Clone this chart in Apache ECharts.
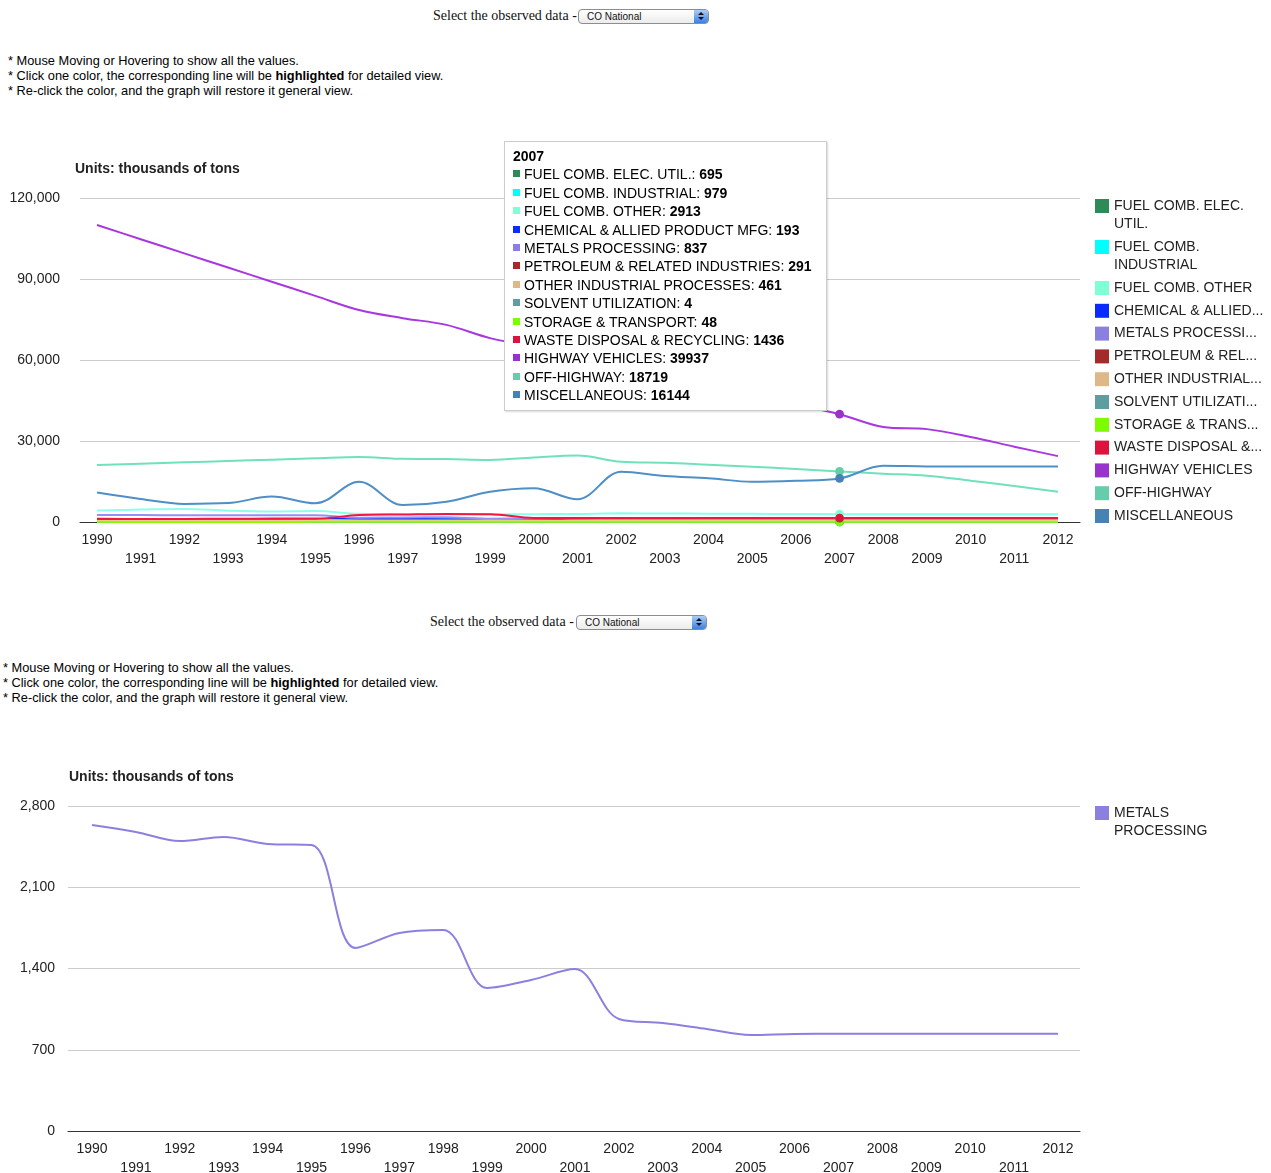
<!DOCTYPE html>
<html>
<head>
<meta charset="utf-8">
<script src="https://cdn.jsdelivr.net/npm/echarts@6/dist/echarts.min.js"></script>
<style>
  body { margin: 0; width: 1271px; height: 1173px; overflow: hidden; background: #fff; position: relative; font-family: "Liberation Sans", Arial, sans-serif; }
  .sel { position: absolute; font-family: "Liberation Serif", "Times New Roman", serif; font-size: 14px; line-height: 16px; color: #111; white-space: nowrap; }
  .box { position: absolute; width: 129px; height: 13px; border: 1px solid #8d8d8d; border-radius: 4px; background: linear-gradient(#ffffff, #ececec); box-sizing: content-box; }
  .box span { position: absolute; left: 8px; top: 0; font: 10px/13px "Liberation Sans", Arial, sans-serif; color: #111; }
  .box i { position: absolute; right: 0; top: 0; width: 14px; height: 13px; border-radius: 0 3px 3px 0; background: linear-gradient(#a9cdf7, #3d80df); }
  .box i:before, .box i:after { content: ''; position: absolute; left: 4px; border-left: 3px solid transparent; border-right: 3px solid transparent; }
  .box i:before { top: 2px; border-bottom: 3px solid #111; }
  .box i:after { top: 7px; border-top: 3px solid #111; }
  .note { position: absolute; font-size: 12.8px; line-height: 15px; color: #000; white-space: nowrap; }
  .chart { position: absolute; left: 0; width: 1271px; }
</style>
</head>
<body>
<div class="sel" style="left:433px;top:8px">Select the observed data -</div>
<div class="box" style="left:578px;top:9px"><span>CO National</span><i></i></div>
<div class="note" style="left:8px;top:53px">
  * Mouse Moving or Hovering to show all the values.<br>
  * Click one color, the corresponding line will be <b>highlighted</b> for detailed view.<br>
  * Re-click the color, and the graph will restore it general view.
</div>
<div id="c1" class="chart" style="top:130px;height:460px"></div>

<div class="sel" style="left:430px;top:614px">Select the observed data -</div>
<div class="box" style="left:576px;top:615px"><span>CO National</span><i></i></div>
<div class="note" style="left:3px;top:660px">
  * Mouse Moving or Hovering to show all the values.<br>
  * Click one color, the corresponding line will be <b>highlighted</b> for detailed view.<br>
  * Re-click the color, and the graph will restore it general view.
</div>
<div id="c2" class="chart" style="top:740px;height:445px"></div>

<script>
const FONT = '"Liberation Sans", Arial, sans-serif'

const years = [1990, 1991, 1992, 1993, 1994, 1995, 1996, 1997, 1998, 1999, 2000, 2001,
  2002, 2003, 2004, 2005, 2006, 2007, 2008, 2009, 2010, 2011, 2012]

const seriesNames = ['FUEL COMB. ELEC. UTIL.', 'FUEL COMB. INDUSTRIAL', 'FUEL COMB. OTHER',
  'CHEMICAL & ALLIED PRODUCT MFG', 'METALS PROCESSING', 'PETROLEUM & RELATED INDUSTRIES',
  'OTHER INDUSTRIAL PROCESSES', 'SOLVENT UTILIZATION', 'STORAGE & TRANSPORT',
  'WASTE DISPOSAL & RECYCLING', 'HIGHWAY VEHICLES', 'OFF-HIGHWAY', 'MISCELLANEOUS']

const legendLabels = ['FUEL COMB. ELEC.\nUTIL.', 'FUEL COMB.\nINDUSTRIAL', 'FUEL COMB. OTHER',
  'CHEMICAL & ALLIED...', 'METALS PROCESSI...', 'PETROLEUM & REL...', 'OTHER INDUSTRIAL...',
  'SOLVENT UTILIZATI...', 'STORAGE & TRANS...', 'WASTE DISPOSAL &...', 'HIGHWAY VEHICLES',
  'OFF-HIGHWAY', 'MISCELLANEOUS']

const colors = ['#2e8b57', '#00ffff', '#7fffd4', '#0a2bff', '#8b80e0', '#a52a2a', '#deb887',
  '#5f9ea0', '#7cfc00', '#dc143c', '#9932cc', '#66cdaa', '#4682b4']

// thousands of tons (2007 from the tooltip)
const fuelElec = [363, 349, 350, 363, 370, 372, 417, 409, 416, 417, 430, 446, 499, 526, 554, 582, 650, 695, 695, 695, 695, 695, 695]
const fuelInd = [879, 920, 955, 1043, 1041, 1056, 1069, 1064, 1060, 1062, 1139, 1177, 1235, 1219, 1202, 1186, 1060, 979, 979, 979, 979, 979, 979]
const fuelOther = [4269, 4587, 4849, 4181, 3877, 4078, 3014, 2905, 2820, 2850, 2900, 3000, 3200, 3150, 3100, 3050, 2950, 2913, 2900, 2900, 2900, 2900, 2900]
const chemical = [1183, 1125, 1096, 1109, 1171, 1223, 1100, 1080, 1050, 1030, 1000, 600, 300, 250, 220, 200, 195, 193, 193, 193, 193, 193, 193]
const metals = [2636, 2576, 2498, 2533, 2473, 2464, 1577, 1706, 1732, 1232, 1301, 1396, 965, 930, 879, 827, 836, 837, 837, 837, 837, 837, 837]
const petroleum = [436, 419, 421, 401, 418, 401, 360, 370, 370, 380, 350, 320, 300, 300, 296, 293, 292, 291, 291, 291, 291, 291, 291]
const otherInd = [537, 547, 558, 594, 592, 629, 580, 560, 540, 520, 500, 480, 470, 470, 465, 463, 462, 461, 461, 461, 461, 461, 461]
const solvent = [5, 5, 5, 5, 5, 6, 6, 6, 6, 6, 5, 5, 4, 4, 4, 4, 4, 4, 4, 4, 4, 4, 4]
const storage = [76, 28, 30, 40, 40, 50, 50, 50, 50, 50, 50, 48, 48, 48, 48, 48, 48, 48, 48, 48, 48, 48, 48]
const waste = [1079, 1116, 1138, 1248, 1225, 1185, 2600, 2800, 3000, 2900, 1500, 1450, 1450, 1450, 1440, 1440, 1436, 1436, 1436, 1436, 1436, 1436, 1436]
const highway = [110000, 104750, 99500, 94250, 89000, 83750, 78500, 75500, 73000, 68100, 65000, 61500, 57500, 54000, 50500, 47000, 43500, 39937, 35200, 34400, 31500, 27900, 24400]
const offHighway = [21100, 21600, 22100, 22600, 23100, 23600, 24100, 23400, 23300, 23000, 23900, 24600, 22300, 21900, 21200, 20500, 19600, 18719, 17900, 17150, 15300, 13300, 11200]
const misc = [10900, 8500, 6700, 7000, 9400, 6900, 14900, 6300, 7500, 11200, 12500, 8400, 18600, 17000, 16200, 14900, 15300, 16144, 20800, 20600, 20600, 20600, 20600]

const allValues = [fuelElec, fuelInd, fuelOther, chemical, metals, petroleum, otherInd,
  solvent, storage, waste, highway, offHighway, misc]

const yTicks1 = { min: 0, max: 120000, interval: 30000 }
const yTicks2 = { min: 0, max: 2800, interval: 700 }
const shownYear = 2007

const labelOf = name => legendLabels[seriesNames.indexOf(name)]
const fmtNum = v => v.toLocaleString('en-US')

function lineSeries(name, values, color) {
  return {
    name,
    type: 'line',
    data: years.map((y, i) => [y, values[i]]),
    smooth: 0.35,
    showSymbol: false,
    symbol: 'circle',
    symbolSize: 8,
    lineStyle: { width: 2, color },
    itemStyle: { color },
    emphasis: { lineStyle: { width: 2 } }
  }
}

function xAxis(min, max) {
  return {
    type: 'value', min, max,
    axisLine: { show: true, lineStyle: { color: '#333', width: 1 } },
    axisTick: { show: false },
    splitLine: { show: false },
    axisLabel: {
      customValues: years,
      formatter: v => (v % 2 ? '\n' : '') + v,
      color: '#222', fontSize: 14, lineHeight: 19, margin: 9, fontFamily: FONT
    }
  }
}

function yAxis(ticks, margin) {
  return {
    type: 'value', ...ticks,
    axisLine: { show: false },
    axisTick: { show: false },
    splitLine: { lineStyle: { color: '#cccccc', width: 1 } },
    axisLabel: { formatter: fmtNum, color: '#222', fontSize: 14, margin, fontFamily: FONT }
  }
}

const legendBase = {
  orient: 'vertical', left: 1095, padding: 0, icon: 'rect', itemWidth: 14, itemHeight: 14,
  selectedMode: false,
  textStyle: { color: '#222', fontSize: 14, lineHeight: 18, fontFamily: FONT }
}

const titleStyle = { fontSize: 14, fontWeight: 'bold', color: '#222', fontFamily: FONT }

const c1 = echarts.init(document.getElementById('c1'))
c1.setOption({
  animation: false,
  textStyle: { fontFamily: FONT },
  title: { text: 'Units: thousands of tons', left: 75, top: 32, padding: 0, textStyle: titleStyle },
  grid: { left: 80, right: 191, top: 68, bottom: 68 },
  xAxis: xAxis(1989.611, 2012.504),
  yAxis: yAxis(yTicks1, 20),
  legend: [
    { ...legendBase, top: 49, itemGap: -13, data: seriesNames.slice(0, 2), formatter: n => '\n' + labelOf(n) },
    { ...legendBase, top: 149, itemGap: 4.8, data: seriesNames.slice(2), formatter: labelOf }
  ],
  tooltip: {
    trigger: 'axis',
    triggerOn: 'none',
    alwaysShowContent: true,
    transitionDuration: 0,
    axisPointer: { type: 'none' },
    position: () => [504, 11],
    backgroundColor: '#fff',
    borderColor: '#cccccc',
    borderWidth: 1,
    borderRadius: 0,
    padding: [5, 14, 5, 8],
    extraCssText: 'box-shadow: 1px 1px 2px rgba(0,0,0,0.15); line-height:18.4px;',
    textStyle: { color: '#000', fontSize: 14, fontFamily: FONT },
    formatter: params => {
      let html = '<div style="font-weight:bold">' + params[0].value[0] + '</div>'
      params.forEach(p => {
        html += '<div><span style="display:inline-block;width:7px;height:7px;margin:0 4px 2px 0;background:' +
          p.color + '"></span>' + p.seriesName + ': <b>' + p.value[1] + '</b></div>'
      })
      return html
    }
  },
  series: seriesNames.map((n, i) => lineSeries(n, allValues[i], colors[i]))
})
c1.dispatchAction({ type: 'showTip', seriesIndex: 0, dataIndex: years.indexOf(shownYear) })

const c2 = echarts.init(document.getElementById('c2'))
c2.setOption({
  animation: false,
  textStyle: { fontFamily: FONT },
  title: { text: 'Units: thousands of tons', left: 69, top: 30, padding: 0, textStyle: titleStyle },
  grid: { left: 68, right: 191, top: 66, bottom: 54 },
  xAxis: xAxis(1989.453, 2012.501),
  yAxis: yAxis(yTicks2, 13),
  legend: { ...legendBase, top: 46, data: ['METALS PROCESSING'], formatter: () => '\nMETALS\nPROCESSING' },
  series: [lineSeries('METALS PROCESSING', metals, colors[4])]
})
</script>
</body>
</html>
